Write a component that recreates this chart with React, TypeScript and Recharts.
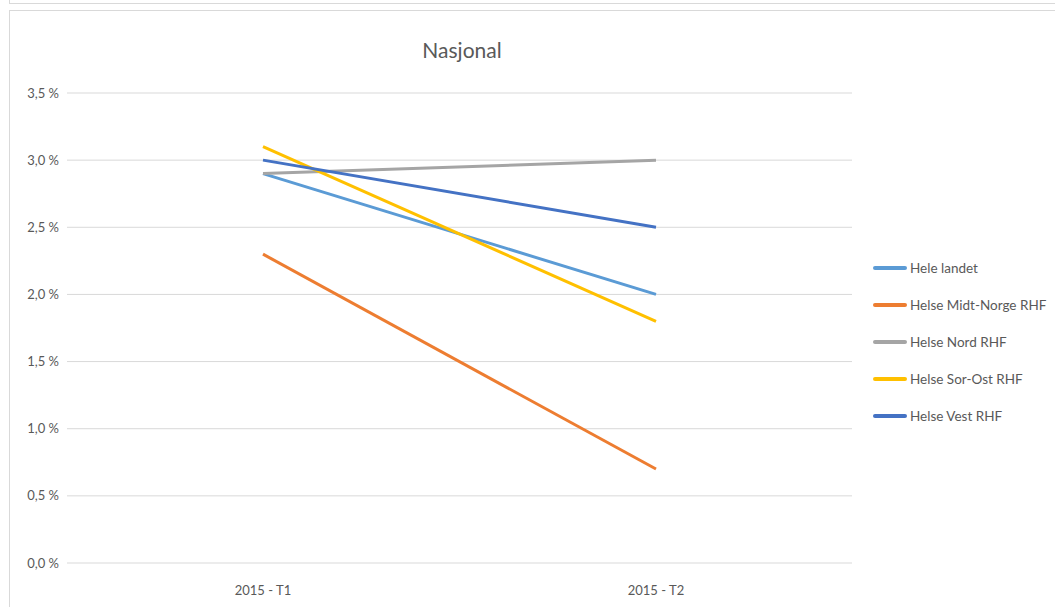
import { LineChart, Line, XAxis, YAxis, CartesianGrid } from 'recharts'

const periods = ['2015 - T1', '2015 - T2']
const heleLandet = [2.9, 2.0]
const midtNorge = [2.3, 0.7]
const nord = [2.9, 3.0]
const sorOst = [3.1, 1.8]
const vest = [3.0, 2.5]
const yTicks = [0, 0.5, 1.0, 1.5, 2.0, 2.5, 3.0, 3.5]

const series = [
  { key: 'hele', name: 'Hele landet', color: '#5B9BD5', values: heleLandet },
  { key: 'midt', name: 'Helse Midt-Norge RHF', color: '#ED7D31', values: midtNorge },
  { key: 'nord', name: 'Helse Nord RHF', color: '#A5A5A5', values: nord },
  { key: 'sorost', name: 'Helse Sor-Ost RHF', color: '#FFC000', values: sorOst },
  { key: 'vest', name: 'Helse Vest RHF', color: '#4472C4', values: vest },
]

const data = periods.map((p, i) => {
  const row: Record<string, string | number> = { period: p }
  series.forEach((s) => (row[s.key] = s.values[i]))
  return row
})

const font = 'Lato, "Liberation Sans", sans-serif'
const textColor = '#595959'

const fmt = (v: number) => v.toFixed(1).replace('.', ',') + ' %'

function LegendBox() {
  return (
    <div style={{ position: 'absolute', left: 863, top: 238, fontFamily: font, fontSize: 13.5, color: textColor }}>
      {series.map((s) => (
        <div key={s.key} style={{ display: 'flex', alignItems: 'center', height: 37 }}>
          <div style={{ width: 34, height: 4, background: s.color, marginRight: 3, borderRadius: 2 }} />
          <span>{s.name}</span>
        </div>
      ))}
    </div>
  )
}

export default function App() {
  return (
    <div style={{ position: 'absolute', left: 0, top: 0, width: 1055, height: 607, background: '#fff', overflow: 'hidden' }}>
      <div style={{ position: 'absolute', left: 9, top: -10, width: 1060, height: 12, border: '1px solid #d9d9d9' }} />
      <div style={{ position: 'absolute', left: 9, top: 10, width: 1060, height: 610, border: '1px solid #d9d9d9' }}>
        <div style={{ position: 'absolute', left: 0, width: 904, top: 26, textAlign: 'center', fontFamily: font, fontSize: 21, color: textColor }}>
          Nasjonal
        </div>
        <LineChart
          width={1044}
          height={596}
          data={data}
          margin={{ top: 82, right: 202, bottom: 14, left: 0 }}
          style={{ fontFamily: font }}
        >
          <CartesianGrid vertical={false} stroke="#d9d9d9" />
          <XAxis
            dataKey="period"
            axisLine={false}
            tickLine={false}
            height={30}
            tickMargin={17}
            padding={{ left: 196, right: 196 }}
            tick={{ fill: textColor, fontSize: 13 }}
          />
          <YAxis
            domain={[0, 3.5]}
            ticks={yTicks}
            axisLine={false}
            tickLine={false}
            width={57}
            tickFormatter={fmt}
            tick={{ fill: textColor, fontSize: 13 }}
          />
          {series.map((s) => (
            <Line
              key={s.key}
              dataKey={s.key}
              name={s.name}
              stroke={s.color}
              strokeWidth={3}
              dot={false}
              isAnimationActive={false}
            />
          ))}
        </LineChart>
        <LegendBox />
      </div>
    </div>
  )
}
